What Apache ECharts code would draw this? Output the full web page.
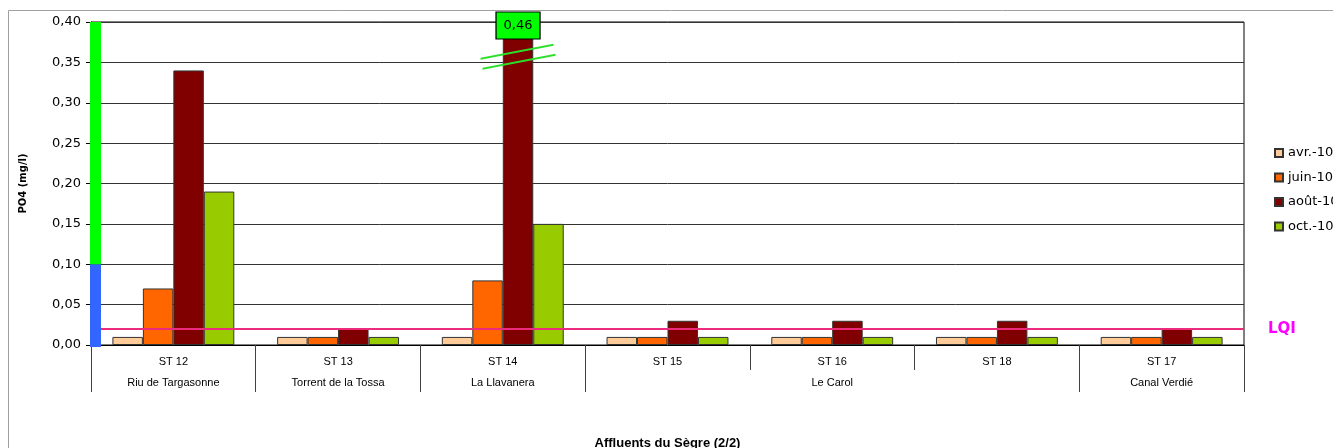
<!DOCTYPE html>
<html>
<head>
<meta charset="utf-8">
<script src="https://cdn.jsdelivr.net/npm/echarts@6/dist/echarts.min.js"></script>
<style>
  html, body { margin: 0; padding: 0; background: #fff; }
  #chart { width: 1333px; height: 448px; }
</style>
</head>
<body>
<div id="chart"></div>
<script>
// Stations (first label row) and the river each belongs to (second row)
const stations = ['ST 12', 'ST 13', 'ST 14', 'ST 15', 'ST 16', 'ST 18', 'ST 17'];
const rivers = ['Riu de Targasonne', 'Torrent de la Tossa', 'La Llavanera', '', 'Le Carol', '', 'Canal Verdié'];
// Indices where a river group starts (separators on the second row)
const riverStarts = [0, 1, 2, 3, 6];

// PO4 concentrations (mg/l) per campaign
const avr10 = [0.01, 0.01, 0.01, 0.01, 0.01, 0.01, 0.01];
const juin10 = [0.07, 0.01, 0.08, 0.01, 0.01, 0.01, 0.01];
const aout10 = [0.34, 0.02, 0.46, 0.03, 0.03, 0.03, 0.02];
const oct10 = [0.19, 0.01, 0.15, 0.01, 0.01, 0.01, 0.01];
const campaigns = ['avr.-10', 'juin-10', 'août-10', 'oct.-10'];

// Y axis range and quality-class band limits
const yMin = 0, yMax = 0.40, yStep = 0.05;
const classStops = [0, 0.10, 0.40];
const classColors = ['#3366FF', '#00FF00'];
// Limit of quantification
const lqi = 0.02;

const fmt = v => v.toFixed(2).replace('.', ',');
const GRID_LEFT = 91;

const chart = echarts.init(document.getElementById('chart'), null, { renderer: 'canvas' });

const barColors = ['#FFCC99', '#FF6600', '#800000', '#99CC00'];
const values = [avr10, juin10, aout10, oct10];

// Value above the clipped bar at ST 14
const overIdx = aout10.findIndex(v => v > yMax);

const series = values.map((arr, i) => ({
  name: campaigns[i],
  type: 'bar',
  data: arr,
  barGap: '0%',
  barCategoryGap: '26%',
  clip: true,
  itemStyle: { color: barColors[i], borderColor: '#333', borderWidth: 1 },
  emphasis: { disabled: true }
}));

series[0].markLine = {
  silent: true,
  symbol: ['none', 'none'],
  lineStyle: { color: '#EC2A7E', width: 2, type: 'solid' },
  label: {
    show: true, position: 'end', formatter: 'LQI',
    color: '#FF00FF', fontWeight: 'bold', fontSize: 15, fontFamily: 'DejaVu Sans',
    distance: 24, padding: [0, 0, 8, 0]
  },
  data: [{ yAxis: lqi }]
};

series[2].markPoint = {
  silent: true,
  data: [
    {
      // axis break marks across the bar
      coord: [overIdx, 0.357],
      symbol: 'path://M0,14 L73,0 L73,2 L0,16 Z M2,24 L75,10 L75,12 L2,26 Z',
      symbolSize: [75, 26],
      symbolKeepAspect: false,
      itemStyle: { color: '#2BE02B', borderWidth: 0 },
      label: { show: false }
    },
    {
      coord: [overIdx, yMax],
      value: aout10[overIdx],
      symbol: 'rect',
      symbolSize: [44, 27],
      symbolOffset: [0, 3.5],
      itemStyle: { color: '#00FF00', borderColor: '#000', borderWidth: 1 },
      label: {
        show: true, position: 'inside',
        formatter: p => fmt(p.value),
        color: '#000', fontSize: 13, fontFamily: 'DejaVu Sans'
      }
    }
  ]
};

const option = {
  backgroundColor: '#fff',
  animation: false,
  grid: {
    left: GRID_LEFT, right: 89, top: 22, bottom: 103,
    show: true, borderColor: '#000', borderWidth: 1, backgroundColor: 'transparent',
    containLabel: false, outerBoundsMode: 'none'
  },
  legend: {
    orient: 'vertical',
    left: 1269, top: 141,
    icon: 'rect',
    itemWidth: 8, itemHeight: 8,
    itemGap: 10.5,
    selectedMode: false,
    textStyle: { fontFamily: 'DejaVu Sans', fontSize: 13, color: '#000', lineHeight: 14 },
    data: campaigns
  },
  xAxis: [
    {
      type: 'category',
      data: stations,
      position: 'bottom',
      axisLine: { show: true, lineStyle: { color: '#000', width: 1 } },
      axisTick: { show: true, interval: 0, length: 25, lineStyle: { color: '#404040' } },
      axisLabel: { interval: 0, margin: 11, fontFamily: 'Liberation Sans', fontSize: 11, color: '#000' },
      splitLine: { show: false },
      name: 'Affluents du Sègre (2/2)',
      nameLocation: 'middle',
      nameGap: 92,
      nameTextStyle: { fontFamily: 'Liberation Sans', fontWeight: 'bold', fontSize: 13, color: '#000' }
    },
    {
      type: 'category',
      data: rivers,
      position: 'bottom',
      offset: 25,
      axisLine: { show: false },
      axisTick: {
        show: true, length: 22, lineStyle: { color: '#404040' },
        interval: (idx) => riverStarts.indexOf(idx) >= 0
      },
      axisLabel: { interval: 0, margin: 7, fontFamily: 'Liberation Sans', fontSize: 11, color: '#000' },
      splitLine: { show: false }
    }
  ],
  yAxis: {
    type: 'value',
    min: yMin, max: yMax, interval: yStep,
    axisLine: { show: true, lineStyle: { color: '#000' } },
    axisTick: { show: true, length: 5, lineStyle: { color: '#000' } },
    axisLabel: { margin: 10, formatter: v => fmt(v), fontFamily: 'DejaVu Sans', fontSize: 13, color: '#000' },
    splitLine: { show: true, lineStyle: { color: '#333', width: 1 } },
    name: 'PO4 (mg/l)',
    nameLocation: 'middle',
    nameGap: 63,
    nameTextStyle: { fontFamily: 'DejaVu Sans', fontWeight: 'bold', fontSize: 10, color: '#000' }
  },
  series: series
};

chart.setOption(option);

// Outer frame and the quality-class strip along the y axis
const graphics = [{
  type: 'rect', silent: true, z: 0,
  shape: { x: 8.5, y: 10.5, width: 1400, height: 500 },
  style: { fill: 'none', stroke: '#A0A0A0', lineWidth: 1 }
}];
for (let i = 0; i < classColors.length; i++) {
  const yTop = chart.convertToPixel({ yAxisIndex: 0 }, classStops[i + 1]);
  let yBot = chart.convertToPixel({ yAxisIndex: 0 }, classStops[i]);
  if (i === 0) yBot += 2;
  graphics.push({
    type: 'rect', silent: true, z: 100,
    shape: { x: GRID_LEFT - 1, y: yTop, width: 11, height: yBot - yTop },
    style: { fill: classColors[i] }
  });
}
chart.setOption({ graphic: graphics });
</script>
</body>
</html>
